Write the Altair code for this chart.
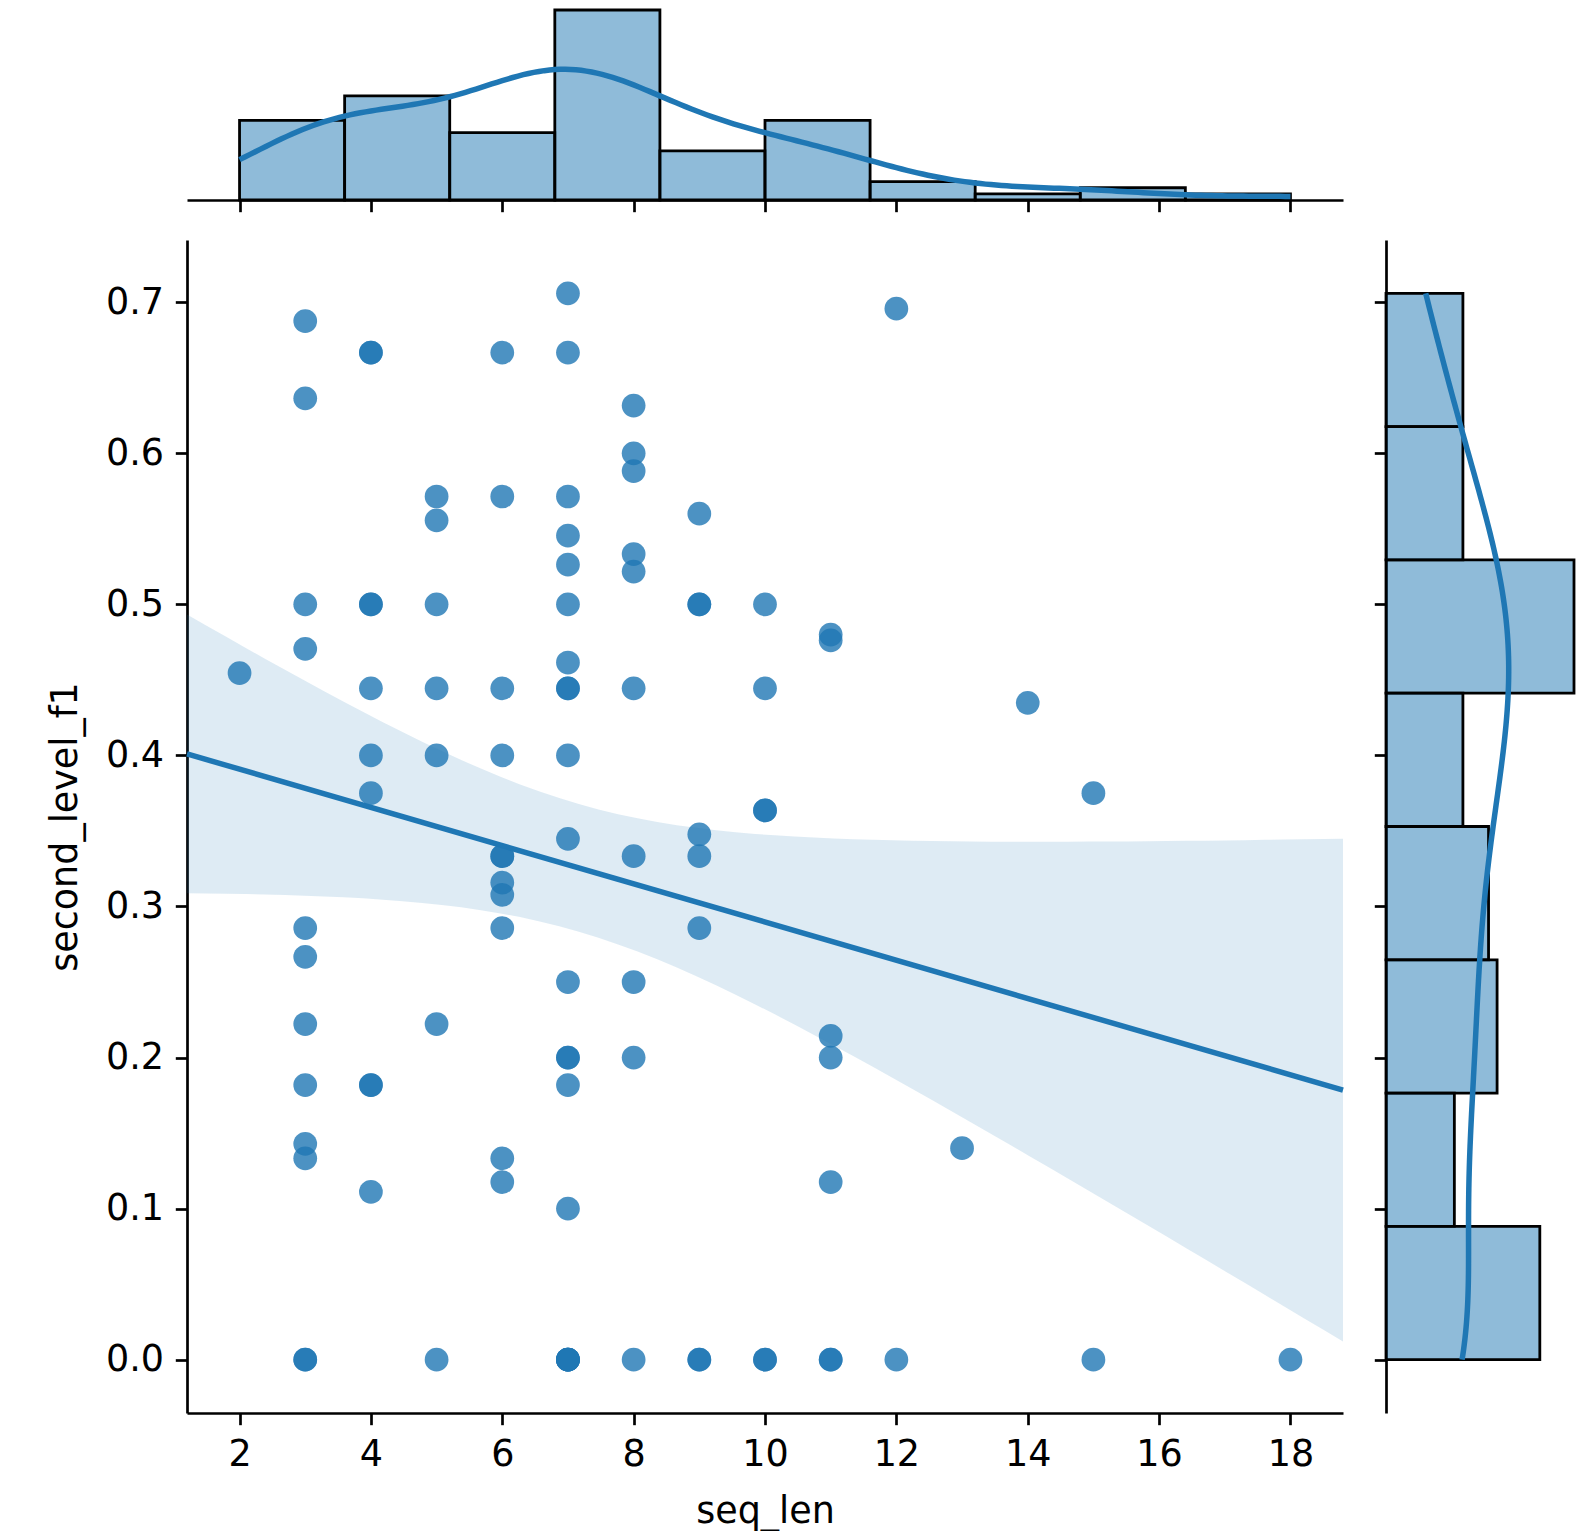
import numpy as np
import pandas as pd
import altair as alt

# ---- data (one entry per point) ----
seq_len = [
    2,
    3, 3, 3, 3, 3, 3, 3, 3, 3, 3, 3, 3,
    4, 4, 4, 4, 4, 4, 4, 4, 4, 4,
    5, 5, 5, 5, 5, 5, 5,
    6, 6, 6, 6, 6, 6, 6, 6, 6, 6, 6,
    7, 7, 7, 7, 7, 7, 7, 7, 7, 7, 7, 7, 7, 7, 7, 7, 7, 7, 7, 7, 7,
    8, 8, 8, 8, 8, 8, 8, 8, 8, 8,
    9, 9, 9, 9, 9, 9, 9, 9,
    10, 10, 10, 10, 10, 10,
    11, 11, 11, 11, 11, 11, 11,
    12, 12,
    13,
    14,
    15, 15,
    18,
]
second_level_f1 = [
    0.4545,
    0.6875, 0.6364, 0.5, 0.4706, 0.2857, 0.2667, 0.2222, 0.1818, 0.1429, 0.1333, 0.0, 0.0,
    0.6667, 0.6667, 0.5, 0.5, 0.4444, 0.4, 0.375, 0.1818, 0.1818, 0.1111,
    0.5714, 0.5556, 0.5, 0.4444, 0.4, 0.2222, 0.0,
    0.6667, 0.5714, 0.4444, 0.4, 0.3333, 0.3333, 0.3158, 0.3077, 0.2857, 0.1333, 0.1176,
    0.7059, 0.6667, 0.5714, 0.5455, 0.5263, 0.5, 0.4615, 0.4444, 0.4444, 0.4, 0.3448,
    0.25, 0.2, 0.2, 0.1818, 0.1, 0.0, 0.0, 0.0, 0.0, 0.0,
    0.6316, 0.6, 0.5882, 0.5333, 0.5217, 0.4444, 0.3333, 0.25, 0.2, 0.0,
    0.56, 0.5, 0.5, 0.3478, 0.3333, 0.2857, 0.0, 0.0,
    0.5, 0.4444, 0.3636, 0.3636, 0.0, 0.0,
    0.48, 0.4762, 0.2143, 0.2, 0.1176, 0.0, 0.0,
    0.6957, 0.0,
    0.14,
    0.4348,
    0.375, 0.0,
    0.0,
]
X_TICKS = [2, 4, 6, 8, 10, 12, 14, 16, 18]
Y_TICKS = [0.0, 0.1, 0.2, 0.3, 0.4, 0.5, 0.6, 0.7]
N_XBINS = 10
N_YBINS = 8

BLUE = "#1f77b4"
FONT = "DejaVu Sans"
LW = 5.5

df = pd.DataFrame({"seq_len": seq_len, "second_level_f1": second_level_f1})
x = np.array(seq_len, dtype=float)
y = np.array(second_level_f1, dtype=float)
n = len(x)

xmin, xmax = float(x.min()), float(x.max())
ymin, ymax = float(y.min()), float(y.max())
xdom = [xmin - 0.05 * (xmax - xmin), xmax + 0.05 * (xmax - xmin)]
ydom = [ymin - 0.05 * (ymax - ymin), ymax + 0.05 * (ymax - ymin)]
xstep = (xmax - xmin) / N_XBINS
ystep = (ymax - ymin) / N_YBINS
bw_x = float(x.std(ddof=1) * n ** -0.2)
bw_y = float(y.std(ddof=1) * n ** -0.2)

# 95% confidence band of the OLS fit (computed from the data)
mx, my = x.mean(), y.mean()
sxx = ((x - mx) ** 2).sum()
b = ((x - mx) * (y - my)).sum() / sxx
a = my - b * mx
s = np.sqrt(((y - a - b * x) ** 2).sum() / (n - 2))
grid = np.linspace(xdom[0], xdom[1], 60)
se = s * np.sqrt(1.0 / n + (grid - mx) ** 2 / sxx)
fit = a + b * grid
band_df = pd.DataFrame({"seq_len": grid, "lo": fit - 1.984 * se, "hi": fit + 1.984 * se})

xscale = alt.Scale(domain=xdom, nice=False, zero=False)
yscale = alt.Scale(domain=ydom, nice=False, zero=False)

x_axis = alt.Axis(values=X_TICKS, format="d", labelFlush=False)
y_axis = alt.Axis(values=Y_TICKS, format=".1f", labelFlush=False)

# ---- main joint plot ----
points = alt.Chart(df).mark_circle(size=564, color=BLUE, opacity=0.8).encode(
    x=alt.X("seq_len:Q", scale=xscale, axis=x_axis, title="seq_len"),
    y=alt.Y("second_level_f1:Q", scale=yscale, axis=y_axis, title="second_level_f1"),
)
band = alt.Chart(band_df).mark_area(color=BLUE, opacity=0.15).encode(
    x=alt.X("seq_len:Q", scale=xscale, axis=x_axis, title="seq_len"),
    y=alt.Y("lo:Q", scale=yscale, axis=y_axis, title="second_level_f1"),
    y2="hi:Q",
)
reg = (
    alt.Chart(df)
    .transform_regression("seq_len", "second_level_f1", extent=xdom)
    .mark_line(color=BLUE, strokeWidth=LW)
    .encode(
        x=alt.X("seq_len:Q", scale=xscale, axis=x_axis, title="seq_len"),
        y=alt.Y("second_level_f1:Q", scale=yscale, axis=y_axis, title="second_level_f1"),
    )
)
main = alt.layer(points, band, reg).properties(width=1156, height=1173)

# ---- top marginal ----
top_axis = alt.Axis(values=X_TICKS, labels=False, title=None)
hist_x = (
    alt.Chart(df)
    .transform_calculate(
        xb0=f"{xmin} + {xstep} * floor((min(datum.seq_len, {xmax - xstep}) - {xmin}) / {xstep} + 1e-9)"
    )
    .transform_calculate(xb1=f"datum.xb0 + {xstep}")
    .transform_aggregate(count="count()", groupby=["xb0", "xb1"])
    .mark_bar(fill=BLUE, fillOpacity=0.5, stroke="black", strokeWidth=2.8)
    .encode(
        x=alt.X("xb0:Q", scale=xscale, axis=top_axis),
        x2="xb1:Q",
        y=alt.Y("count:Q", axis=None, scale=alt.Scale(nice=False, zero=True)),
        y2=alt.datum(0),
    )
)
kde_x = (
    alt.Chart(df)
    .transform_density(
        "seq_len", as_=["xv", "dens"], bandwidth=bw_x, extent=[xmin, xmax], counts=True, steps=200
    )
    .transform_calculate(kde=f"datum.dens * {xstep}")
    .mark_line(color=BLUE, strokeWidth=LW)
    .encode(
        x=alt.X("xv:Q", scale=xscale, axis=top_axis),
        y=alt.Y("kde:Q", axis=None, scale=alt.Scale(nice=False, zero=True)),
    )
)
top = alt.layer(hist_x, kde_x).properties(width=1156, height=190)

# ---- right marginal ----
right_axis = alt.Axis(values=Y_TICKS, labels=False, title=None)
hist_y = (
    alt.Chart(df)
    .transform_calculate(
        yb0=f"{ymin} + {ystep} * floor((min(datum.second_level_f1, {ymax - ystep}) - {ymin}) / {ystep} + 1e-9)"
    )
    .transform_calculate(yb1=f"datum.yb0 + {ystep}")
    .transform_aggregate(count="count()", groupby=["yb0", "yb1"])
    .mark_bar(fill=BLUE, fillOpacity=0.5, stroke="black", strokeWidth=2.8)
    .encode(
        y=alt.Y("yb0:Q", scale=yscale, axis=right_axis),
        y2="yb1:Q",
        x=alt.X("count:Q", axis=None, scale=alt.Scale(nice=False, zero=True)),
        x2=alt.datum(0),
    )
)
kde_y = (
    alt.Chart(df)
    .transform_density(
        "second_level_f1", as_=["yv", "dens"], bandwidth=bw_y, extent=[ymin, ymax], counts=True, steps=200
    )
    .transform_calculate(kde=f"datum.dens * {ystep}")
    .mark_line(color=BLUE, strokeWidth=LW)
    .encode(
        y=alt.Y("yv:Q", scale=yscale, axis=right_axis),
        x=alt.X("kde:Q", axis=None, scale=alt.Scale(nice=False, zero=True)),
        order=alt.Order("yv:Q"),
    )
)
right = alt.layer(hist_y, kde_y).properties(width=188, height=1173)

blank = (
    alt.Chart(pd.DataFrame({"v": [0]}))
    .mark_point(opacity=0, size=1)
    .encode(x=alt.X("v:Q", axis=None), y=alt.Y("v:Q", axis=None))
    .properties(width=1, height=1)
)

chart = (
    alt.concat(top, blank, main, right, columns=2, spacing={"row": 26, "column": 18}, align="each")
    .properties(padding={"left": 39, "top": 0, "right": 0, "bottom": 0})
    .configure_view(stroke=None)
    .configure_axis(
        labelFont=FONT,
        titleFont=FONT,
        labelFontSize=36.5,
        titleFontSize=36.5,
        titleFontWeight="normal",
        labelColor="black",
        titleColor="black",
        domainColor="black",
        tickColor="black",
        domainWidth=2.7,
        tickWidth=2.7,
        tickSize=11.7,
        labelPadding=11.7,
        titlePadding=21,
        grid=False,
    )
)

chart.save("out.html", embed_options={"renderer": "svg", "actions": False})
